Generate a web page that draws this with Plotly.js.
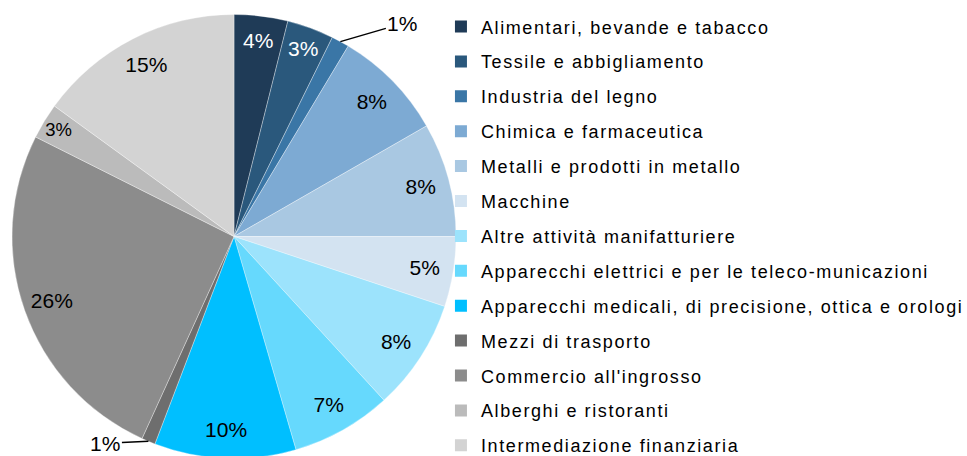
<!DOCTYPE html>
<html><head><meta charset="utf-8">
<script src="https://cdn.plot.ly/plotly-3.0.1.min.js"></script>
<style>html,body{margin:0;padding:0;overflow:hidden;background:#fff}
.legendtext{letter-spacing:1.6px}</style>
</head><body><div id="chart" style="width:967px;height:460px"></div>
<script>
var categories = ["Alimentari, bevande e tabacco","Tessile e abbigliamento","Industria del legno","Chimica e farmaceutica","Metalli e prodotti in metallo","Macchine","Altre attività manifatturiere","Apparecchi elettrici e per le teleco-municazioni","Apparecchi medicali, di precisione, ottica e orologi","Mezzi di trasporto","Commercio all'ingrosso","Alberghi e ristoranti","Intermediazione finanziaria"];
var shares = [3.9,3.4,1.3,8.1,8.3,5.1,8.1,7.3,10.3,1.0,25.6,2.6,15.0];
var colors = ["#1F3B57","#2A587C","#3A76A6","#7DAAD3","#A9C8E2","#D3E3F1","#9CE3FC","#66D9FD","#00BFFF","#6E6E6E","#8C8C8C","#BBBBBB","#D3D3D3"];
var textColors = ["#fff","#fff","#000","#000","#000","#000","#000","#000","#000","#000","#000","#000","#000"];
var outsideLabel = [false,false,true,false,false,false,false,false,false,true,false,false,false];
var FONT = "Liberation Sans, Arial, sans-serif";
var W = 967, H = 460;
var dom = {x:[0.0124,0.4716], y:[0.0033,0.9685]};

var total = shares.reduce(function(a,b){return a+b;},0);
var traces = [{
  type:"pie", labels:categories, values:shares, sort:false, direction:"clockwise", rotation:0,
  marker:{colors:colors, line:{color:"rgba(255,255,255,0.55)", width:0.6}},
  textinfo:"none", hoverinfo:"label+percent", showlegend:false, domain:dom
},{
  type:"pie", labels:categories, values:shares, sort:false, direction:"clockwise", rotation:0, hole:0.74,
  marker:{colors:categories.map(function(){return "rgba(0,0,0,0)";}), line:{width:0}},
  texttemplate:outsideLabel.map(function(o){return o ? "" : "%{percent:.0%}";}),
  textposition:"inside", insidetextorientation:"horizontal",
  textfont:{family:FONT, size:21, color:textColors},
  hoverinfo:"skip", showlegend:false, domain:dom
}];
categories.forEach(function(c,i){
  traces.push({type:"scatter", mode:"markers", x:[null], y:[null], name:c, legendgroup:"g"+i,
    marker:{symbol:"square", size:12, color:colors[i]}, hoverinfo:"skip", showlegend:true});
});

// leader-line labels for the thin slices, anchored at each slice's outer edge
var cxp = (dom.x[0]+dom.x[1])/2, cyp = (dom.y[0]+dom.y[1])/2;
var Rpx = Math.min((dom.x[1]-dom.x[0])*W, (dom.y[1]-dom.y[0])*H)/2;
var labelOffsets = {2:[62,-18], 9:[-43,2]};
var annotations = [];
var cum = 0;
shares.forEach(function(v,i){
  var mid = (cum + v/2)/total*2*Math.PI; cum += v;
  if(!outsideLabel[i]) return;
  annotations.push({
    xref:"paper", yref:"paper",
    x: cxp + Rpx*Math.sin(mid)/W, y: cyp + Rpx*Math.cos(mid)/H,
    ax: labelOffsets[i][0], ay: labelOffsets[i][1],
    text: Math.round(v/total*100) + "%", showarrow:true, arrowhead:0, arrowwidth:1.5, arrowcolor:"#000",
    standoff:0, font:{family:FONT, size:21, color:"#000"}
  });
});

var layout = {
  width:W, height:H, margin:{l:0,r:0,t:0,b:0,autoexpand:false}, paper_bgcolor:"#fff", plot_bgcolor:"rgba(0,0,0,0)",
  xaxis:{visible:false, domain:[0.5,0.51]}, yaxis:{visible:false},
  showlegend:true, annotations:annotations,
  legend:{x:0.456, y:0.982, xanchor:"left", yanchor:"top", font:{family:FONT, size:18, color:"#000"},
    tracegroupgap:8.5, itemwidth:30, bgcolor:"rgba(0,0,0,0)"}
};
Plotly.newPlot("chart", traces, layout, {displayModeBar:false, staticPlot:true});
</script></body></html>
